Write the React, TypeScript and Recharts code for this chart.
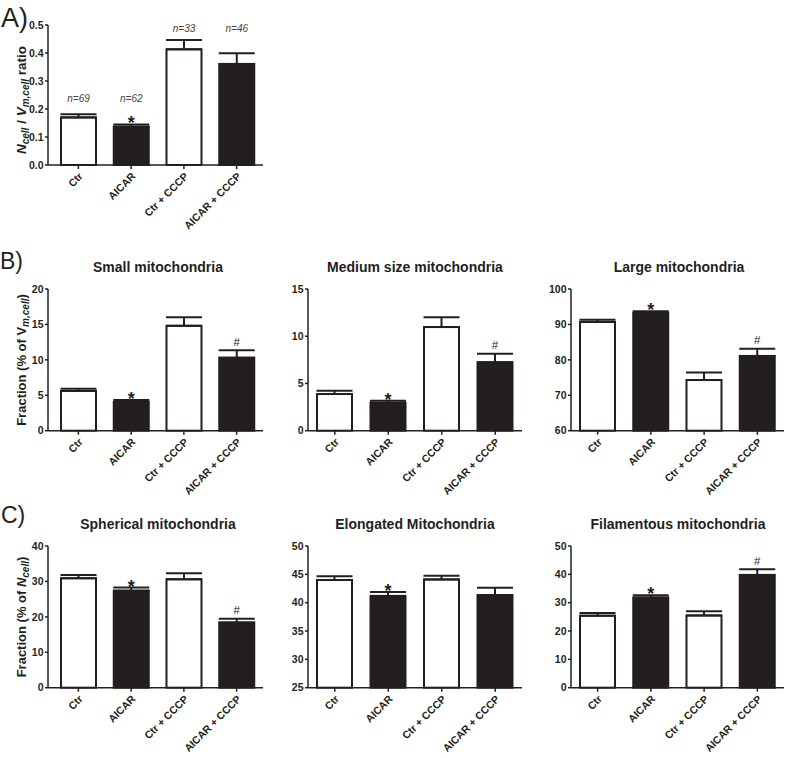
import React from "react";
import { BarChart, Bar, XAxis, YAxis, ErrorBar } from "recharts";

const categories = ["Ctr", "AICAR", "Ctr + CCCP", "AICAR + CCCP"];

// A) N_cell / V_m,cell ratio
const ratioMean = [0.17, 0.137, 0.413, 0.361];
const ratioSem = [0.011, 0.008, 0.033, 0.038];
const ratioMarks = ["", "*", "", ""];
const ratioN = ["n=69", "n=62", "n=33", "n=46"];
const ratioNAt = [0.226, 0.226, 0.476, 0.476];
const ratioTicks = [0, 0.1, 0.2, 0.3, 0.4, 0.5];

// B) volume fractions
const smallMean = [5.6, 4.05, 14.8, 10.3];
const smallSem = [0.33, 0.28, 1.2, 1.05];
const smallTicks = [0, 5, 10, 15, 20];

const mediumMean = [3.88, 2.96, 10.97, 7.24];
const mediumSem = [0.35, 0.22, 1.03, 0.91];
const mediumTicks = [0, 5, 10, 15];

const largeMean = [90.7, 93.3, 74.3, 81.1];
const largeSem = [0.6, 0.4, 2.1, 2.0];
const largeTicks = [60, 70, 80, 90, 100];

// C) shape fractions
const sphericalMean = [30.9, 27.4, 30.6, 18.4];
const sphericalSem = [0.9, 0.85, 1.7, 1.05];
const sphericalTicks = [0, 10, 20, 30, 40];

const elongatedMean = [44.0, 41.2, 44.1, 41.35];
const elongatedSem = [0.65, 0.7, 0.65, 1.3];
const elongatedTicks = [25, 30, 35, 40, 45, 50];

const filamentousMean = [25.4, 31.8, 25.5, 39.8];
const filamentousSem = [0.95, 0.8, 1.5, 2.0];
const filamentousTicks = [0, 10, 20, 30, 40, 50];

const starHash = ["", "*", "", "#"];
const starOnly = ["", "*", "", ""];

const INK = "#231f20";
const FONT = "'Liberation Sans', Arial, sans-serif";

function RotTick(props: any) {
  const { x, y, payload } = props;
  return (
    <g transform={`translate(${x + 5},${y + 6})`}>
      <text
        x={0}
        y={0}
        textAnchor="end"
        transform="rotate(-45)"
        fontSize={10.5}
        fontWeight="bold"
        fontFamily={FONT}
        fill={INK}
      >
        {payload.value}
      </text>
    </g>
  );
}

const makeShape = (base: number) => (props: any) => {
  const { x, y, width, height, payload } = props;
  const dark = payload.cat.includes("AICAR");
  const ppu = height / (payload.mean - base);
  const errTop = y - payload.sem * ppu;
  const cx = x + width / 2;
  return (
    <g>
      <rect x={x} y={y} width={width} height={height} fill={dark ? INK : "#fff"} stroke={INK} strokeWidth={2} />
      {payload.mark === "*" && (
        <text x={cx} y={errTop + 5} textAnchor="middle" fontSize={18} fontWeight="bold" fontFamily={FONT} fill={INK}>
          *
        </text>
      )}
      {payload.mark === "#" && (
        <text x={cx} y={errTop - 4.5} textAnchor="middle" fontSize={11.5} fontFamily={FONT} fill={INK}>
          #
        </text>
      )}
      {payload.n && (
        <text
          x={cx}
          y={y + height - (payload.nAt - base) * ppu}
          textAnchor="middle"
          fontSize={10}
          fontStyle="italic"
          fontFamily={FONT}
          fill="#444"
        >
          {payload.n}
        </text>
      )}
    </g>
  );
};

type PanelProps = {
  plotLeft: number;
  plotTop: number;
  plotW: number;
  plotH: number;
  right: number;
  padLeft: number;
  mean: number[];
  sem: number[];
  marks: string[];
  ticks: number[];
  decimals?: number;
  nText?: string[];
  nAt?: number[];
};

function Panel(p: PanelProps) {
  const data = categories.map((cat, i) => ({
    cat,
    mean: p.mean[i],
    sem: p.sem[i],
    range: [0, p.sem[i]],
    mark: p.marks[i],
    n: p.nText ? p.nText[i] : "",
    nAt: p.nAt ? p.nAt[i] : 0,
  }));
  const domain: [number, number] = [p.ticks[0], p.ticks[p.ticks.length - 1]];
  const width = 48 + p.plotW + p.right;
  const height = 10 + p.plotH + 68;
  return (
    <div style={{ position: "absolute", left: p.plotLeft - 48, top: p.plotTop - 10 }}>
      <BarChart width={width} height={height} data={data} margin={{ top: 10, right: p.right, left: 8, bottom: 0 }}>
        <XAxis
          dataKey="cat"
          interval={0}
          tick={<RotTick />}
          tickSize={4}
          height={68}
          padding={{ left: p.padLeft, right: 0 }}
          axisLine={{ stroke: INK, strokeWidth: 1.5 }}
          tickLine={{ stroke: INK, strokeWidth: 1.5 }}
        />
        <YAxis
          width={40}
          type="number"
          domain={domain}
          ticks={p.ticks}
          interval={0}
          tickSize={3}
          tickMargin={1.5}
          tickFormatter={(v: number) => v.toFixed(p.decimals ?? 0)}
          tick={{ fontSize: 10.5, fontWeight: "bold", fill: INK, fontFamily: FONT }}
          axisLine={{ stroke: INK, strokeWidth: 1.5 }}
          tickLine={{ stroke: INK, strokeWidth: 1.5 }}
        />
        <Bar dataKey="mean" barSize={35} shape={makeShape(domain[0])} isAnimationActive={false}>
          <ErrorBar dataKey="range" width={18} strokeWidth={2} stroke={INK} direction="y" />
        </Bar>
      </BarChart>
    </div>
  );
}

const titleStyle = { fontSize: 14, fontWeight: "bold" as const, fontFamily: FONT, fill: INK };
const labStyle = { fontSize: 13, fontWeight: "bold" as const, fontFamily: FONT, fill: INK };

export default function App() {
  return (
    <div style={{ position: "absolute", left: 0, top: 0, width: 787, height: 758, overflow: "hidden", background: "#fff" }}>
      <Panel plotLeft={48} plotTop={25} plotW={215} plotH={140} right={10} padLeft={4}
        mean={ratioMean} sem={ratioSem} marks={ratioMarks} ticks={ratioTicks} decimals={1} nText={ratioN} nAt={ratioNAt} />

      <Panel plotLeft={48} plotTop={289} plotW={215} plotH={141.7} right={10} padLeft={4}
        mean={smallMean} sem={smallSem} marks={starHash} ticks={smallTicks} />
      <Panel plotLeft={308} plotTop={289} plotW={214} plotH={141.7} right={10} padLeft={0}
        mean={mediumMean} sem={mediumSem} marks={starHash} ticks={mediumTicks} />
      <Panel plotLeft={571} plotTop={289} plotW={213} plotH={141.7} right={3} padLeft={0}
        mean={largeMean} sem={largeSem} marks={starHash} ticks={largeTicks} />

      <Panel plotLeft={48} plotTop={546} plotW={215} plotH={141.7} right={10} padLeft={4}
        mean={sphericalMean} sem={sphericalSem} marks={starHash} ticks={sphericalTicks} />
      <Panel plotLeft={308} plotTop={546} plotW={214} plotH={141.7} right={10} padLeft={0}
        mean={elongatedMean} sem={elongatedSem} marks={starOnly} ticks={elongatedTicks} />
      <Panel plotLeft={571} plotTop={546} plotW={213} plotH={141.7} right={3} padLeft={0}
        mean={filamentousMean} sem={filamentousSem} marks={starHash} ticks={filamentousTicks} />

      <svg width={787} height={758} style={{ position: "absolute", left: 0, top: 0, pointerEvents: "none" }}>
        <text x={1} y={26.5} fontSize={27} fontFamily={FONT} fill={INK}>A)</text>
        <text x={0} y={268.5} fontSize={23} fontFamily={FONT} fill={INK}>B)</text>
        <text x={1} y={523} fontSize={23} fontFamily={FONT} fill={INK}>C)</text>

        <text x={158} y={272} textAnchor="middle" {...titleStyle}>Small mitochondria</text>
        <text x={415} y={272} textAnchor="middle" {...titleStyle}>Medium size mitochondria</text>
        <text x={679} y={272} textAnchor="middle" {...titleStyle}>Large mitochondria</text>
        <text x={158} y={529} textAnchor="middle" {...titleStyle}>Spherical mitochondria</text>
        <text x={415} y={529} textAnchor="middle" {...titleStyle}>Elongated Mitochondria</text>
        <text x={678} y={529} textAnchor="middle" {...titleStyle}>Filamentous mitochondria</text>

        <text x={26} y={100} textAnchor="middle" transform="rotate(-90,26,100)" fontSize={13.5} fontWeight="bold" fontFamily={FONT} fill={INK}>
          <tspan fontStyle="italic">N</tspan>
          <tspan fontStyle="italic" fontSize={10} dy={2.5}>cell</tspan>
          <tspan dy={-2.5}> / </tspan>
          <tspan fontStyle="italic">V</tspan>
          <tspan fontStyle="italic" fontSize={10} dy={2.5}>m,cell</tspan>
          <tspan dy={-2.5}> ratio</tspan>
        </text>
        <text x={26} y={360} textAnchor="middle" transform="rotate(-90,26,360)" {...labStyle}>
          <tspan>Fraction (% of V</tspan>
          <tspan fontStyle="italic" fontSize={10} dy={2.5}>m,cell</tspan>
          <tspan dy={-2.5}>)</tspan>
        </text>
        <text x={26} y={617} textAnchor="middle" transform="rotate(-90,26,617)" {...labStyle}>
          <tspan>Fraction (% of </tspan>
          <tspan fontStyle="italic">N</tspan>
          <tspan fontStyle="italic" fontSize={10} dy={2.5}>cell</tspan>
          <tspan dy={-2.5}>)</tspan>
        </text>
      </svg>
    </div>
  );
}
